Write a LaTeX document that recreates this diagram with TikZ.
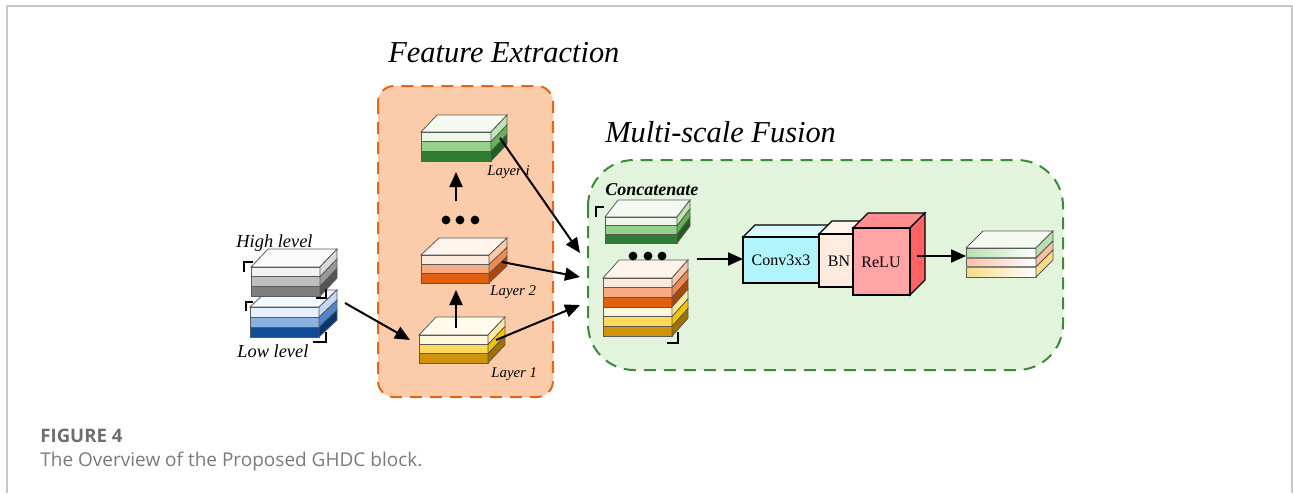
\documentclass[tikz,border=0pt]{standalone}
\usepackage{fontspec}
\setmainfont{Liberation Serif}
\newfontfamily\capfont{Open Sans}
\usetikzlibrary{arrows.meta}
\definecolor{edge}{HTML}{5A5A5A}
\definecolor{framegray}{HTML}{C8C8C8}
\definecolor{fepeach}{HTML}{FCCBAA}
\definecolor{fedash}{HTML}{E0661A}
\definecolor{msgreen}{HTML}{E2F4DC}
\definecolor{msdash}{HTML}{3C8A3A}
\definecolor{capgray}{HTML}{6E6E6E}
\definecolor{captext}{HTML}{7A7A7A}
% green
\definecolor{gA}{HTML}{EDF7EA}\definecolor{gB}{HTML}{97CF8C}\definecolor{gC}{HTML}{2E7D32}
\definecolor{gAs}{HTML}{BFE3B4}\definecolor{gBs}{HTML}{62B555}\definecolor{gCs}{HTML}{1D5E21}
\definecolor{gT}{HTML}{F4FAF2}
% orange
\definecolor{oA}{HTML}{FDEADB}\definecolor{oB}{HTML}{F7AB82}\definecolor{oC}{HTML}{E0600F}
\definecolor{oAs}{HTML}{F9C9AA}\definecolor{oBs}{HTML}{F08A50}\definecolor{oCs}{HTML}{B04606}
\definecolor{oT}{HTML}{FFF4EC}
% yellow
\definecolor{yA}{HTML}{FFF8DC}\definecolor{yB}{HTML}{FFD95A}\definecolor{yC}{HTML}{CF940A}
\definecolor{yAs}{HTML}{FFE9A0}\definecolor{yBs}{HTML}{F5C400}\definecolor{yCs}{HTML}{A07000}
\definecolor{yT}{HTML}{FFFBEA}
% gray
\definecolor{hA}{HTML}{F2F2F2}\definecolor{hB}{HTML}{BFBFBF}\definecolor{hC}{HTML}{7F7F7F}
\definecolor{hAs}{HTML}{D9D9D9}\definecolor{hBs}{HTML}{999999}\definecolor{hCs}{HTML}{555555}
\definecolor{hT}{HTML}{FAFAFA}
% blue
\definecolor{bA}{HTML}{E4F1FB}\definecolor{bB}{HTML}{8AB2E2}\definecolor{bC}{HTML}{0F4D99}
\definecolor{bAs}{HTML}{C2DAF2}\definecolor{bBs}{HTML}{4F86CF}\definecolor{bCs}{HTML}{0A3670}
\definecolor{bT}{HTML}{F2F8FD}
% blocks
\definecolor{cvF}{HTML}{B2F4FC}\definecolor{cvT}{HTML}{D6FAFE}\definecolor{cvS}{HTML}{8EE6F2}
\definecolor{bnF}{HTML}{FDEBDD}\definecolor{bnT}{HTML}{FFF4EC}\definecolor{bnS}{HTML}{F5D5BE}
\definecolor{rlF}{HTML}{FFA5A5}\definecolor{rlT}{HTML}{FF8E8E}\definecolor{rlS}{HTML}{FF6262}
% output
\definecolor{uG}{HTML}{B8DFAE}\definecolor{uO}{HTML}{FDC0A0}\definecolor{uY}{HTML}{FBDB85}

% top face of a stack: x y w dx dy color
\newcommand{\stacktopface}[6]{%
  \filldraw[fill=#6,draw=edge,line width=0.4pt] (#1,#2) -- ++(#4,-#5) -- ++(#3,0) -- ++(-#4,#5) -- cycle;}
% one layer: x y w h dx dy front side
\newcommand{\stacklayer}[8]{%
  \filldraw[fill=#7,draw=edge,line width=0.4pt] (#1,#2) rectangle ++(#3,#4);
  \filldraw[fill=#8,draw=edge,line width=0.4pt] ({#1+#3},#2) -- ++(#5,-#6) -- ++(0,#4) -- ++(-#5,#6) -- cycle;}
% three-layer stack: x y w h dx dy colour-prefix
\newcommand{\threestack}[7]{%
  \stacktopface{#1}{#2}{#3}{#5}{#6}{#7T}
  \stacklayer{#1}{{#2+#4}}{#3}{#4}{#5}{#6}{#7B}{#7Bs}
  \stacklayer{#1}{{#2+2*#4}}{#3}{#4}{#5}{#6}{#7C}{#7Cs}
  \stacklayer{#1}{#2}{#3}{#4}{#5}{#6}{#7A}{#7As}}
% cuboid: x y w h dx dy front top side
\newcommand{\cuboidblock}[9]{%
  \filldraw[fill=#8,draw=black,line width=0.6pt] (#1,#2) -- ++(#5,-#6) -- ++(#3,0) -- ++(-#5,#6) -- cycle;
  \filldraw[fill=#9,draw=black,line width=0.6pt] ({#1+#3},#2) -- ++(#5,-#6) -- ++(0,#4) -- ++(-#5,#6) -- cycle;
  \filldraw[fill=#7,draw=black,line width=0.6pt] (#1,#2) rectangle ++(#3,#4);}

\tikzset{
  arr/.style={-{Triangle[length=7.5pt,width=6.5pt]}, line width=1pt, black},
  brk/.style={line width=1.4pt, black},
  title/.style={font=\fontsize{15.2}{17}\selectfont\itshape, anchor=base west, inner sep=0pt},
  lbl/.style={font=\fontsize{7.4}{8}\selectfont\itshape, anchor=base west, inner sep=0pt},
  lvl/.style={font=\fontsize{9.2}{10}\selectfont\itshape, anchor=base west, inner sep=0pt},
  blk/.style={font=\fontsize{8}{9}\selectfont, inner sep=0pt},
  dotc/.style={fill=black},
}

\begin{document}
\begin{tikzpicture}[x=0.5pt,y=-0.5pt]
\useasboundingbox (0,0) rectangle (1293,493);
% frame
\draw[framegray, line width=0.8pt] (7,493) -- (7,6) -- (1292,6) -- (1292,493);

% titles
\node[title] (tfe) at (388,62) {Feature Extraction};
\node[title] (tms) at (605,142) {Multi-scale Fusion};

% group boxes
\filldraw[fill=fepeach, draw=fedash, line width=1pt, dash pattern=on 6pt off 4pt, rounded corners=8pt]
  (378,86) rectangle (553,397);
\filldraw[fill=msgreen, draw=msdash, line width=1pt, dash pattern=on 6pt off 4pt, rounded corners=23pt]
  (588,160) rectangle (1063,370);

% input stacks
\threestack{250}{307}{69}{10}{18}{17}{b}
\threestack{251}{267}{69}{9.7}{17}{18}{h}
\node[lvl] (thl) at (236,247) {High level};
\node[lvl] (tll) at (237,357) {Low level};
\draw[brk] (244,272) -- (244,262) -- (253,262);
\draw[brk] (246,311) -- (246,302) -- (253,302);
\draw[brk] (316,298) -- (326,298) -- (326,289);
\draw[brk] (313,342) -- (326,342) -- (326,332);

% feature extraction stacks
\threestack{421}{132}{70}{9.7}{16}{17}{g}
\threestack{421}{255}{68}{9.3}{18}{17}{o}
\threestack{419}{335}{69}{9.3}{17}{18}{y}
\node[lbl] (tli) at (487,175) {Layer i};
\node[lbl] (tl2) at (490,295) {Layer 2};
\node[lbl] (tl1) at (491,377) {Layer 1};
\fill[dotc] (446,220) circle (2.2pt) (460,220) circle (2.2pt) (475,220) circle (2.2pt);

% concatenate
\node[font=\fontsize{9}{10}\selectfont\bfseries\itshape, anchor=base west, inner sep=0pt] (tcc) at (605,195) {Concatenate};
\threestack{605}{217}{72}{8.7}{13}{17}{g}
\stacktopface{603}{278}{69}{16}{18}{oT}
\stacklayer{603}{278}{69}{9.7}{16}{18}{oA}{oAs}
\stacklayer{603}{287.7}{69}{9.7}{16}{18}{oB}{oBs}
\stacklayer{603}{297.4}{69}{9.7}{16}{18}{oC}{oCs}
\stacklayer{603}{307.1}{69}{9.7}{16}{18}{yA}{yAs}
\stacklayer{603}{316.8}{69}{9.7}{16}{18}{yB}{yBs}
\stacklayer{603}{326.5}{69}{9.7}{16}{18}{yC}{yCs}
\fill[dotc] (633,256) circle (2.2pt) (648,256) circle (2.2pt) (662,256) circle (2.2pt);
\draw[brk] (596,217) -- (596,207) -- (604,207);
\draw[brk] (678,332) -- (678,343) -- (667,343);

% conv / bn / relu
\cuboidblock{743}{237}{76}{46}{12}{12}{cvF}{cvT}{cvS}
\cuboidblock{819}{234}{34}{53}{13}{13}{bnF}{bnT}{bnS}
\cuboidblock{853}{228}{57}{67}{15}{15}{rlF}{rlT}{rlS}
\node[blk] (conv) at (781,260) {Conv3x3};
\node[blk] (bn) at (839,261) {BN};
\node[blk] (relu) at (881,262) {ReLU};

% output stack
\filldraw[fill=gT,draw=edge,line width=0.4pt] (966,248) -- ++(17,-17) -- ++(70,0) -- ++(-17,17) -- cycle;
\shade[left color=uG, right color=white] (966,248) rectangle (1036,258);
\shade[left color=uO, right color=white] (966,258) rectangle (1036,267);
\shade[left color=uY, right color=white] (966,267) rectangle (1036,277);
\draw[edge,line width=0.4pt] (966,248) rectangle (1036,277);
\draw[gray,line width=0.9pt] (966,258) -- (1036,258) (966,267) -- (1036,267);
\filldraw[fill=uG,draw=edge,line width=0.4pt] (1036,248) -- ++(17,-17) -- ++(0,10) -- ++(-17,17) -- cycle;
\filldraw[fill=uO,draw=edge,line width=0.4pt] (1036,258) -- ++(17,-17) -- ++(0,9) -- ++(-17,17) -- cycle;
\filldraw[fill=uY,draw=edge,line width=0.4pt] (1036,267) -- ++(17,-17) -- ++(0,10) -- ++(-17,17) -- cycle;

% connector coordinates
\coordinate (lowout) at (345,303);
\coordinate (l1in) at (410,340);
\coordinate (l1up) at (456,328);
\coordinate (l2low) at (456,290);
\coordinate (l2up) at (456,201);
\coordinate (lilow) at (456,172);
\coordinate (lisrc) at (500,138);
\coordinate (l2src) at (502,262);
\coordinate (l1src) at (496,340);
\coordinate (cin1) at (580,253);
\coordinate (cin2) at (580,277);
\coordinate (cin3) at (580,305);
\coordinate (ccout) at (697,259);
\coordinate (convin) at (743,259);
\coordinate (reluout) at (917,256);
\coordinate (outin) at (966,256);

\draw[arr] (lowout) -- (l1in);
\draw[arr] (l1up) -- (l2low);
\draw[arr] (l2up) -- (lilow);
\draw[arr] (lisrc) -- (cin1);
\draw[arr] (l2src) -- (cin2);
\draw[arr] (l1src) -- (cin3);
\draw[arr] (ccout) -- (convin);
\draw[arr] (reluout) -- (outin);

% caption
\node[font=\capfont\bfseries\fontsize{9.3}{11}\selectfont, text=capgray, anchor=base west, inner sep=0pt] (cap1) at (40,442) {FIGURE 4};
\node[font=\capfont\fontsize{9.5}{11}\selectfont, text=captext, anchor=base west, inner sep=0pt] (cap2) at (40,466) {The Overview of the Proposed GHDC block.};
\end{tikzpicture}
\end{document}
